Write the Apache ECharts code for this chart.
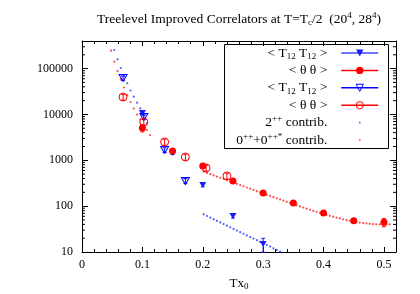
<!DOCTYPE html>
<html><head><meta charset="utf-8">
<script src="https://cdn.jsdelivr.net/npm/echarts@6/dist/echarts.min.js"></script>
<style>html,body{margin:0;padding:0;background:#fff}#c{width:420px;height:294px}</style>
</head><body><div id="c"></div>
<script>
// ---------------- data ----------------
const xTickLabels = ['0', '0.1', '0.2', '0.3', '0.4', '0.5'];
const yTickLabels = ['10', '100', '1000', '10000', '100000'];
const yMinorTicks = [20,30,40,50,60,70,80,90,200,300,400,500,600,700,800,900,
  2000,3000,4000,5000,6000,7000,8000,9000,20000,30000,40000,50000,60000,70000,80000,90000,200000,300000];

// < T12 T12 >, 20^4 (filled triangles)
const t20X = [0.1, 0.15, 0.2, 0.25, 0.3];
const t20Y = [10700, 1450, 289, 61, 14.9];
const t20Err = [700, 110, 25, 6, 5];

// < theta theta >, 20^4 (filled circles)
const th20X = [0.1, 0.15, 0.2, 0.25, 0.3, 0.35, 0.4, 0.45, 0.5];
const th20Y = [5060, 1600, 750, 354, 194, 117, 71, 48, 44.5];
const th20Err = [900, 100, 40, 20, 10, 6, 4, 3, 9];

// < T12 T12 >, 28^4 (open triangles)
const t28X = [0.068, 0.1024, 0.1368, 0.1712];
const t28Y = [62400, 8790, 1680, 354];
const t28Err = [7000, 1000, 200, 45];

// < theta theta >, 28^4 (open circles)
const th28X = [0.068, 0.1024, 0.1368, 0.1712, 0.2056, 0.24];
const th28Y = [24000, 6840, 2506, 1180, 679, 455];
const th28Err = [3500, 1000, 380, 180, 100, 70];

// 2++ contribution (blue dots)
const c2X = [0.0534, 0.0588, 0.0642, 0.0696, 0.075, 0.0804, 0.0858, 0.0912, 0.0966, 0.102, 0.1074,
  0.2015, 0.207, 0.2125, 0.218, 0.2235, 0.229, 0.2345, 0.24, 0.2455, 0.251, 0.2565, 0.262,
  0.2675, 0.273, 0.2785, 0.284, 0.2895, 0.295, 0.3005, 0.306, 0.3115, 0.317, 0.3225, 0.328];
const c2Y = [254700, 159600, 103000, 69000, 47750, 33270, 24380, 18030, 13610, 9440, 6410,
  66.2, 61.0, 56.3, 51.9, 47.8, 44.1, 40.7, 37.5, 34.6, 31.9, 29.4, 27.1,
  25.0, 23.0, 21.2, 19.6, 18.1, 16.6, 15.3, 14.2, 13.1, 12.0, 11.1, 10.2];

// 0++ + 0++* contribution (red dots)
const c0X = [0.048, 0.0534, 0.0588, 0.0642, 0.0696, 0.075, 0.0804, 0.0858, 0.0912, 0.0966, 0.102, 0.1074, 0.1128,
  0.2015, 0.207, 0.2125, 0.218, 0.2235, 0.229, 0.2345, 0.24, 0.2455, 0.251, 0.2565, 0.262, 0.2675, 0.273,
  0.2785, 0.284, 0.2895, 0.295, 0.3005, 0.306, 0.3115, 0.317, 0.3225, 0.328, 0.3335, 0.339, 0.3445, 0.35,
  0.3555, 0.361, 0.3665, 0.372, 0.3775, 0.383, 0.3885, 0.394, 0.3995, 0.405, 0.4105, 0.416, 0.4215, 0.427,
  0.4325, 0.438, 0.4435, 0.449, 0.4545, 0.46, 0.4655, 0.471, 0.4765, 0.482, 0.4875, 0.493, 0.4985, 0.504, 0.5095];
const c0Y = [245500, 141300, 88700, 58500, 38700, 26500, 18700, 13500, 9980, 7760, 5890, 4580, 3560,
  564, 531, 499, 469, 442, 415, 391, 367, 345, 325, 306, 288, 271, 255,
  240, 226, 212, 200, 188, 177, 167, 157, 148, 140, 132, 124, 117, 111,
  104, 98.6, 93.2, 88.2, 83.5, 79.2, 75.1, 71.3, 67.8, 64.6, 61.6, 58.8, 56.2, 53.9,
  51.7, 49.8, 48.0, 46.5, 45.1, 43.9, 42.8, 41.9, 41.2, 40.6, 40.2, 39.9, 39.8, 39.8, 40.0];

// ---------------- chart ----------------
const F = 'Liberation Serif';
const zip = (xs, ys) => xs.map((x, i) => [x, ys[i]]);
const errData = (xs, ys, es) => xs.map((x, i) => [x, ys[i] - es[i], ys[i] + es[i]]);
const downTri = 'path://M0,0L10,0L5,8.66Z';
const dotIcon = 'path://M0,0M37,9M17.7,3.7h1.6v1.6h-1.6z';

const rich = {
  sub: {fontFamily: F, fontSize: 9, lineHeight: 6, verticalAlign: 'bottom', color: '#000'},
  sup: {fontFamily: F, fontSize: 9, lineHeight: 9, verticalAlign: 'top', color: '#000'}
};
const legendNames = {
  A: '< T{sub|12} T{sub|12} >',
  B: '< \u03b8 \u03b8 >',
  C: '< T{sub|12} T{sub|12} >',
  D: '< \u03b8 \u03b8 >',
  E: '2{sup|++} contrib.',
  F: '0{sup|++}+0{sup|++*} contrib.'
};

function errSeries(xs, ys, es, color) {
  return {
    type: 'custom', data: errData(xs, ys, es), encode: {x: 0, y: [1, 2]}, z: 4, silent: true,
    renderItem: (params, api) => {
      const x = api.value(0);
      const p1 = api.coord([x, api.value(1)]);
      const p2 = api.coord([x, api.value(2)]);
      const c = 2;
      const st = {stroke: color, lineWidth: 1};
      return {type: 'group', children: [
        {type: 'line', shape: {x1: p1[0], y1: p1[1], x2: p2[0], y2: p2[1]}, style: st},
        {type: 'line', shape: {x1: p1[0] - c, y1: p1[1], x2: p1[0] + c, y2: p1[1]}, style: st},
        {type: 'line', shape: {x1: p2[0] - c, y1: p2[1], x2: p2[0] + c, y2: p2[1]}, style: st}
      ]};
    }
  };
}

const axisText = {fontFamily: F, fontSize: 12, color: '#000'};
const chart = echarts.init(document.getElementById('c'), null, {renderer: 'canvas', width: 420, height: 294});
chart.setOption({
  animation: false,
  backgroundColor: '#fff',
  title: {
    text: 'Treelevel Improved Correlators at T=T{sub|c}/2  (20{sup|4}, 28{sup|4})',
    left: 97, top: 11, padding: 0,
    textStyle: {fontFamily: F, fontSize: 13.5, fontWeight: 'normal', color: '#000', lineHeight: 16, rich: rich}
  },
  grid: {left: 82, right: 24, top: 41, bottom: 42, containLabel: false, outerBoundsMode: 'none'},
  xAxis: [{
    type: 'value', min: 0, max: 0.52, interval: 0.1, position: 'bottom',
    name: '{m|Tx}{sub|0}', nameLocation: 'middle', nameGap: 20,
    nameTextStyle: {fontFamily: F, fontSize: 13, color: '#000', lineHeight: 15,
      rich: {m: {fontFamily: F, fontSize: 13, lineHeight: 15, color: '#000'}, sub: rich.sub}},
    axisLine: {show: true, onZero: false, lineStyle: {color: '#000', width: 1}},
    axisTick: {show: true, inside: true, length: 5, lineStyle: {color: '#000'}},
    minorTick: {show: true, splitNumber: 5, length: 3, lineStyle: {color: '#000'}},
    splitLine: {show: false},
    axisLabel: Object.assign({margin: 7, showMaxLabel: false, formatter: v => {
      const i = Math.round(v * 10);
      return Math.abs(v * 10 - i) < 1e-6 && xTickLabels[i] !== undefined ? xTickLabels[i] : '';
    }}, axisText)
  }, {
    type: 'value', min: 0, max: 0.52, interval: 0.1, position: 'top',
    axisLine: {show: true, onZero: false, lineStyle: {color: '#000', width: 1}},
    axisTick: {show: true, inside: true, length: 5, lineStyle: {color: '#000'}},
    minorTick: {show: true, splitNumber: 5, length: 3, lineStyle: {color: '#000'}},
    splitLine: {show: false}, axisLabel: {show: false}
  }],
  yAxis: [{
    type: 'log', logBase: 10, min: 10, max: 400000, position: 'left',
    axisLine: {show: true, onZero: false, lineStyle: {color: '#000', width: 1}},
    axisTick: {show: true, inside: true, length: 6, lineStyle: {color: '#000'}},
    splitLine: {show: false},
    axisLabel: Object.assign({margin: 9, showMaxLabel: false, formatter: v => {
      const l = Math.log10(v), i = Math.round(l);
      return Math.abs(l - i) < 1e-6 && yTickLabels[i - 1] !== undefined ? yTickLabels[i - 1] : '';
    }}, axisText)
  }, {
    type: 'log', logBase: 10, min: 10, max: 400000, position: 'right',
    axisLine: {show: true, onZero: false, lineStyle: {color: '#000', width: 1}},
    axisTick: {show: true, inside: true, length: 6, lineStyle: {color: '#000'}},
    splitLine: {show: false}, axisLabel: {show: false}
  }],
  legend: {
    orient: 'vertical', align: 'right', right: 41, top: 45, padding: 0,
    itemWidth: 37, itemHeight: 9, itemGap: 1.4, selectedMode: false,
    lineStyle: {width: 1.5, opacity: 1},
    formatter: n => legendNames[n],
    textStyle: {fontFamily: F, fontSize: 13.5, color: '#000', lineHeight: 16, padding: [0, 9, 0, 0], rich: rich},
    data: [
      {name: 'A'}, {name: 'B'},
      {name: 'C', itemStyle: {borderWidth: 1}}, {name: 'D', itemStyle: {borderWidth: 1}},
      {name: 'E', icon: dotIcon}, {name: 'F', icon: dotIcon}
    ]
  },
  graphic: [{
    type: 'rect', shape: {x: 224.5, y: 44.5, width: 164, height: 104},
    style: {fill: 'none', stroke: '#000', lineWidth: 1}, z: 10, silent: true
  }],
  series: [
    {
      type: 'custom', silent: true, z: 3, encode: {x: 0, y: 1},
      data: yMinorTicks.map(v => [0, v]),
      renderItem: (params, api) => {
        const cs = params.coordSys;
        const y = api.coord([0, api.value(1)])[1];
        const st = {stroke: '#000', lineWidth: 1};
        return {type: 'group', children: [
          {type: 'line', shape: {x1: cs.x, y1: y, x2: cs.x + 3, y2: y}, style: st},
          {type: 'line', shape: {x1: cs.x + cs.width - 3, y1: y, x2: cs.x + cs.width, y2: y}, style: st}
        ]};
      }
    },
    {name: 'E', type: 'scatter', data: zip(c2X, c2Y), symbol: 'circle', symbolSize: 2.2,
      itemStyle: {color: '#1f3cff'}, z: 2, silent: true},
    {name: 'F', type: 'scatter', data: zip(c0X, c0Y), symbol: 'circle', symbolSize: 2.2,
      itemStyle: {color: '#ff2020'}, z: 2, silent: true},
    errSeries(t20X, t20Y, t20Err, '#1a1aff'),
    errSeries(th20X, th20Y, th20Err, '#ff0000'),
    errSeries(t28X, t28Y, t28Err, '#0000ff'),
    errSeries(th28X, th28Y, th28Err, '#ff0000'),
    {name: 'A', type: 'line', data: zip(t20X, t20Y), symbol: downTri, symbolSize: [7, 6], showSymbol: true,
      itemStyle: {color: '#1a1aff'}, lineStyle: {color: '#3b4dff', opacity: 0}, z: 5, silent: true},
    {name: 'B', type: 'line', data: zip(th20X, th20Y), symbol: 'circle', symbolSize: 7, showSymbol: true,
      itemStyle: {color: '#ff0000'}, lineStyle: {color: '#ff0000', opacity: 0}, z: 5, silent: true},
    {name: 'C', type: 'line', data: zip(t28X, t28Y), symbol: downTri, symbolSize: [8, 7], showSymbol: true,
      itemStyle: {color: 'rgba(255,255,255,0)', borderColor: '#0000ff', borderWidth: 1},
      lineStyle: {color: '#0000ff', opacity: 0}, z: 5, silent: true},
    {name: 'D', type: 'line', data: zip(th28X, th28Y), symbol: 'circle', symbolSize: 8, showSymbol: true,
      itemStyle: {color: 'rgba(255,255,255,0)', borderColor: '#ff0000', borderWidth: 1},
      lineStyle: {color: '#ff0000', opacity: 0}, z: 5, silent: true}
  ]
});
</script></body></html>
